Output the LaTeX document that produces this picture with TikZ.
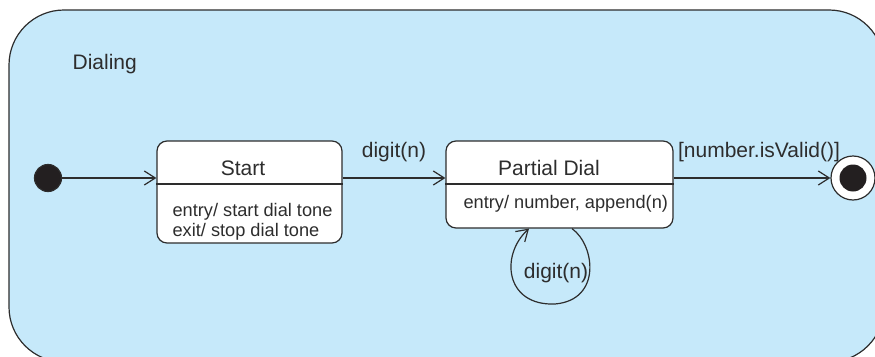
\documentclass[tikz,border=0pt]{standalone}
\usepackage{fontspec}
\setmainfont{Liberation Sans}
\usetikzlibrary{arrows.meta, positioning, calc}
\definecolor{regionblue}{RGB}{198,233,250}
\definecolor{inkgray}{RGB}{45,45,45}
\definecolor{dotblack}{RGB}{35,31,32}

\begin{document}
\begin{tikzpicture}[x=1pt, y=-1pt, line width=1.2pt, color=inkgray,
  statebox/.style={draw, fill=white, rounded corners=10pt, inner sep=0pt},
  titletext/.style={font=\fontsize{21}{24}\selectfont, inner sep=2pt},
  bodytext/.style={font=\fontsize{18.2}{20}\selectfont, align=left, inner sep=0pt},
  trans/.style={-{Straight Barb[length=11pt, width=14pt]}}]
  \useasboundingbox (0,0) rectangle (875,356);
  \clip (0,0) rectangle (875,356);

  % Composite state
  \draw[fill=regionblue, rounded corners=55pt] (9,10) rectangle (884,362);
  \node[titletext, anchor=west] (dialing) at (70,64) {Dialing};

  % Pseudo states
  \node[circle, draw, fill=dotblack, minimum size=27pt, inner sep=0pt] (init) at (48,178) {};
  \node[circle, draw, fill=white, minimum size=44pt, inner sep=0pt] (final) at (853,178) {};
  \node[circle, fill=dotblack, minimum size=27pt, inner sep=0pt] (finaldot) at (final) {};

  % States
  \node[statebox, minimum width=185pt, minimum height=102pt] (start) at (249.5,192) {};
  \draw (start.west |- 0,184) -- (start.east |- 0,184);
  \node[titletext] (startname) at (243,168) {Start};
  \node[bodytext, anchor=west] (startbody) at (172,222) {entry/ start dial tone\\exit/ stop dial tone};

  \node[statebox, minimum width=227pt, minimum height=87pt] (partial) at (559.5,184.5) {};
  \draw (partial.west |- 0,184) -- (partial.east |- 0,184);
  \node[titletext] (partialname) at (549,168) {Partial Dial};
  \node[bodytext, anchor=west] (partialbody) at (463,204) {entry/ number, append(n)};

  % Transitions
  \draw[trans] (init) -- (init -| start.west);
  \draw[trans] (start.east |- init) -- node[titletext, above=14pt] {digit(n)} (partial.west |- init);
  \draw[trans] (partial.east |- init) -- node[titletext, above=14pt, xshift=7pt] {[number.isValid()]} (final);
  \draw[trans] (partial.south -| 572,0) .. controls (595,245) and (602,300) .. (555,304)
    .. controls (505,306) and (500,255) .. (partial.south -| 529,0);
  \node[titletext] (looplabel) at (556,273) {digit(n)};
\end{tikzpicture}
\end{document}
